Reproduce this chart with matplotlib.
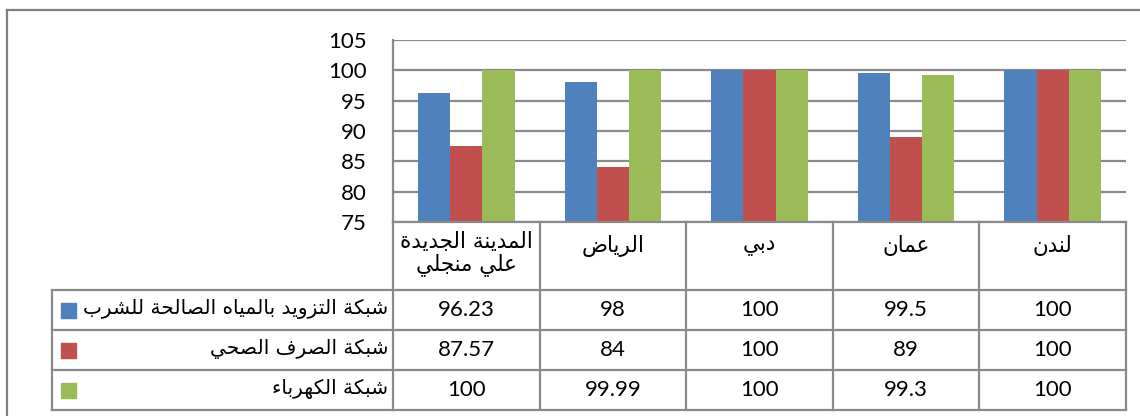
import numpy as np
import matplotlib.pyplot as plt

cities = ["المدينة الجديدة\nعلي منجلي", "الرياض", "دبي", "عمان", "لندن"]
series_names = ["شبكة التزويد بالمياه الصالحة للشرب", "شبكة الصرف الصحي", "شبكة الكهرباء"]
water = [96.23, 98, 100, 99.5, 100]
sewage = [87.57, 84, 100, 89, 100]
power = [100, 99.99, 100, 99.3, 100]
value_labels = [["96.23", "98", "100", "99.5", "100"],
                ["87.57", "84", "100", "89", "100"],
                ["100", "99.99", "100", "99.3", "100"]]
yticks = [75, 80, 85, 90, 95, 100, 105]
colors = ["#4F81BD", "#C0504D", "#9BBB59"]

# matplotlib has no arabic shaping, so pick presentation forms by hand
AR_LETTERS = "ءآأؤإئابةتثجحخدذرزسشصضطظعغفقكلمنهوىي"
AR_NFORMS = "122224242444442222444444444444444224"
ar_forms = {}
code = 0xFE80
for ch, n in zip(AR_LETTERS, AR_NFORMS):
    ar_forms[ch] = [chr(code + k) for k in range(int(n))]
    code += int(n)


def shape_line(line):
    out = []
    for i, ch in enumerate(line):
        f = ar_forms.get(ch)
        if f is None:
            out.append(ch)
            continue
        prev = line[i - 1] if i > 0 else ''
        nxt = line[i + 1] if i + 1 < len(line) else ''
        after = len(ar_forms.get(prev, [])) == 4 and ch != 'ء'
        before = len(f) == 4 and nxt in ar_forms and nxt != 'ء'
        if after and before:
            idx = 3
        elif after:
            idx = 1
        elif before:
            idx = 2
        else:
            idx = 0
        out.append(f[min(idx, len(f) - 1)])
    return ''.join(out)[::-1]


def ar(s):
    return '\n'.join(shape_line(l) for l in s.split('\n'))


W, H = 1140, 416
fig = plt.figure(figsize=(W / 100, H / 100), dpi=100)

# pixel layout
px_left, px_right = 393, 1126
px_top, px_bot = 40, 222
rows_y = [222, 290, 330, 370, 410]
leg_left = 52
line_col = '#8a8a8a'
num_font = 'Lato'
ar_font = ['DejaVu Sans']

ax = fig.add_axes([px_left / W, 1 - px_bot / H, (px_right - px_left) / W, (px_bot - px_top) / H])
x = np.arange(len(cities))
bw = 0.22
for k, vals in enumerate([water, sewage, power]):
    ax.bar(x + (k - 1) * bw, np.array(vals) - 75, bw, bottom=75, color=colors[k], zorder=3)
ax.set_xlim(-0.5, len(cities) - 0.5)
ax.set_ylim(75, 105)
ax.set_yticks(yticks)
ax.set_yticklabels([str(t) for t in yticks], fontsize=16, family=num_font)
ax.tick_params(axis='y', length=0, pad=19)
ax.set_xticks([])
ax.grid(axis='y', color=line_col, lw=1.6, zorder=0)
for s in ['top', 'right', 'bottom']:
    ax.spines[s].set_visible(False)
ax.spines['left'].set_color(line_col)
ax.spines['left'].set_linewidth(1.6)

# data table and frame drawn in pixel coordinates
tab = fig.add_axes([0, 0, 1, 1])
tab.set_xlim(0, W)
tab.set_ylim(H, 0)
tab.axis('off')

col_w = (px_right - px_left) / len(cities)
col_x = [px_left + i * col_w for i in range(len(cities) + 1)]

tab.plot([7, W], [10, 10], color='#808080', lw=1.6)
tab.plot([7, 7], [10, H], color='#808080', lw=1.6)

tab.plot([px_left, px_right], [rows_y[0], rows_y[0]], color=line_col, lw=1.6)
for yy in rows_y[1:]:
    tab.plot([leg_left, px_right], [yy, yy], color=line_col, lw=1.6)
for i, xx in enumerate(col_x):
    tab.plot([xx, xx], [rows_y[0], rows_y[-1]], color=line_col, lw=1.6)
tab.plot([leg_left, leg_left], [rows_y[1], rows_y[-1]], color=line_col, lw=1.6)

for i, c in enumerate(cities):
    cx = (col_x[i] + col_x[i + 1]) / 2
    cy = 254 if '\n' in c else 246
    tab.text(cx, cy, ar(c), ha='center', va='center', multialignment='center',
             fontsize=15.5, family=ar_font, linespacing=1.05)

for r in range(3):
    cy = (rows_y[r + 1] + rows_y[r + 2]) / 2
    for i in range(len(cities)):
        cx = (col_x[i] + col_x[i + 1]) / 2
        tab.text(cx, cy, value_labels[r][i], ha='center', va='center', fontsize=16, family=num_font)
    tab.add_patch(plt.Rectangle((61, cy - 7.5), 15, 15, color=colors[r]))
    tab.text(388, cy - 1, ar(series_names[r]), ha='right', va='center', fontsize=14.5, family=ar_font)

fig.savefig('out.png', dpi=100)
